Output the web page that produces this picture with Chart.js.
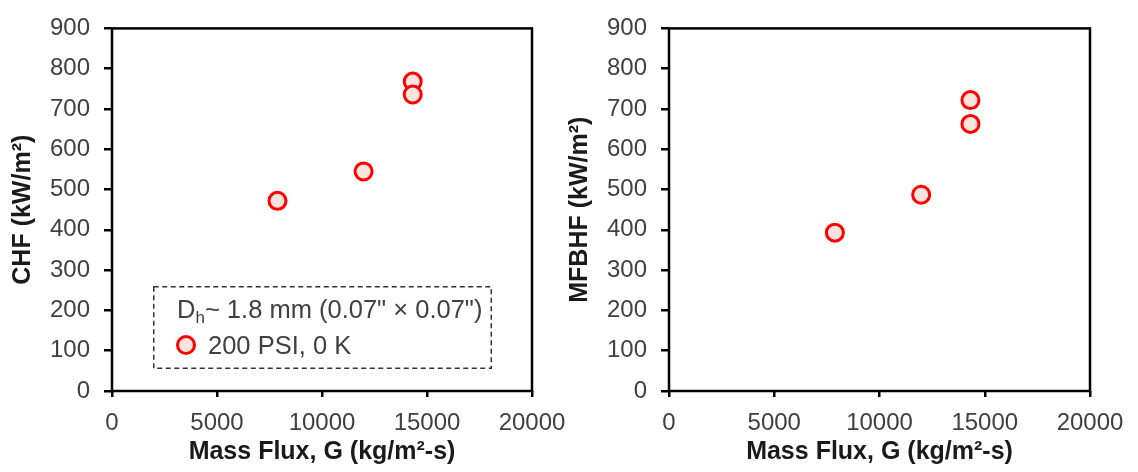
<!DOCTYPE html>
<html>
<head>
<meta charset="utf-8">
<title>CHF and MFBHF vs mass flux</title>
<script src="https://cdn.jsdelivr.net/npm/chart.js@4.4.1/dist/chart.umd.min.js"></script>
<style>
    body {
        margin: 0;
        width: 1138px;
        height: 472px;
        overflow: hidden;
        position: relative;
        background: #fff;
        font-family: "Liberation Sans", Arial, sans-serif;
    }
    canvas { position: absolute; top: 0; }
    #chf-chart { left: 0; }
    #mfbhf-chart { left: 557px; }

    .legend-box {
        position: absolute;
        left: 153px;
        top: 286px;
        width: 339px;
        height: 83px;
        color: #404040;
        font-size: 25.5px;
        line-height: 28px;
    }
    .legend-box svg { position: absolute; left: 0; top: 0; }
    .legend-box .row { position: absolute; white-space: nowrap; }
    .legend-box sub { font-size: 17px; line-height: 0; vertical-align: -5px; }
    .legend-box .marker {
        position: absolute;
        width: 14px;
        height: 14px;
        border: 3px solid #ff0000;
        border-radius: 50%;
        background: #fde3de;
    }
</style>
</head>
<body>
<canvas id="chf-chart" width="580" height="472"></canvas>
<canvas id="mfbhf-chart" width="581" height="472"></canvas>

<div class="legend-box">
    <svg width="339" height="83">
        <rect x="0.75" y="0.75" width="337.5" height="81.5" fill="none"
              stroke="#333" stroke-width="1.5" stroke-dasharray="5 3.5"/>
    </svg>
    <div class="row" style="left:24px; top:9px;">D<sub>h</sub>~ 1.8 mm (0.07" × 0.07")</div>
    <span class="marker" style="left:23px; top:49px;"></span>
    <div class="row" style="left:55px; top:45px;">200 PSI, 0 K</div>
</div>

<script>
// Measured data, 200 PSI, 0 K subcooling
const massFlux = [7880, 11980, 14320, 14320];     // kg/m2-s
const chfValues = [472, 545, 768, 736];           // kW/m2
const mfbhfValues = [393, 487, 722, 663];         // kW/m2

const xTicks = [0, 5000, 10000, 15000, 20000];
const yTicks = [0, 100, 200, 300, 400, 500, 600, 700, 800, 900];

const FONT = '"Liberation Sans", Arial, sans-serif';
const TEXT_COLOR = '#404040';

// black frame around the plot area
const frameBox = {
    id: 'frameBox',
    afterDraw(chart) {
        const { ctx, chartArea: a } = chart;
        ctx.save();
        ctx.strokeStyle = '#000';
        ctx.lineWidth = 2.5;
        ctx.strokeRect(a.left, a.top, a.right - a.left, a.bottom - a.top);
        ctx.restore();
    }
};

function toPoints(ys) {
    return massFlux.map((x, i) => ({ x: x, y: ys[i] }));
}

function makeChart(canvasId, values, yTitle) {
    const ctx = document.getElementById(canvasId).getContext('2d');
    return new Chart(ctx, {
        type: 'scatter',
        data: {
            datasets: [{
                label: '200 PSI, 0 K',
                data: toPoints(values),
                pointRadius: 8.5,
                pointHoverRadius: 8.5,
                pointBorderWidth: 3,
                pointBorderColor: '#ff0000',
                pointBackgroundColor: '#fde3de'
            }]
        },
        plugins: [frameBox],
        options: {
            responsive: false,
            animation: false,
            devicePixelRatio: 1,
            layout: { padding: { top: 21, right: 48, bottom: 0, left: 0 } },
            plugins: {
                legend: { display: false },
                tooltip: { enabled: false }
            },
            scales: {
                x: {
                    type: 'linear',
                    min: 0,
                    max: 20000,
                    afterBuildTicks: (scale) => {
                        scale.ticks = xTicks.map(v => ({ value: v }));
                    },
                    afterFit: (scale) => { scale.height = 81; },
                    grid: {
                        drawOnChartArea: false,
                        drawTicks: true,
                        tickLength: 6,
                        color: '#000',
                        lineWidth: 2.5
                    },
                    border: { display: false },
                    ticks: {
                        autoSkip: false,
                        maxRotation: 0,
                        padding: 12,
                        color: TEXT_COLOR,
                        font: { family: FONT, size: 24 },
                        callback: (v) => String(v)
                    },
                    title: {
                        display: true,
                        text: 'Mass Flux, G (kg/m²-s)',
                        color: '#1a1a1a',
                        font: { family: FONT, size: 25, weight: 'bold' },
                        padding: { top: 0, bottom: 5 }
                    }
                },
                y: {
                    type: 'linear',
                    min: 0,
                    max: 900,
                    afterBuildTicks: (scale) => {
                        scale.ticks = yTicks.map(v => ({ value: v }));
                    },
                    afterFit: (scale) => { scale.width = 112; },
                    grid: {
                        drawOnChartArea: false,
                        drawTicks: true,
                        tickLength: 8,
                        color: '#000',
                        lineWidth: 2.5
                    },
                    border: { display: false },
                    ticks: {
                        autoSkip: false,
                        padding: 14,
                        color: TEXT_COLOR,
                        font: { family: FONT, size: 24 }
                    },
                    title: {
                        display: true,
                        text: yTitle,
                        color: '#1a1a1a',
                        font: { family: FONT, size: 25, weight: 'bold' },
                        padding: { top: 8, bottom: 0 }
                    }
                }
            }
        }
    });
}

makeChart('chf-chart', chfValues, 'CHF (kW/m²)');
makeChart('mfbhf-chart', mfbhfValues, 'MFBHF (kW/m²)');
</script>
</body>
</html>
